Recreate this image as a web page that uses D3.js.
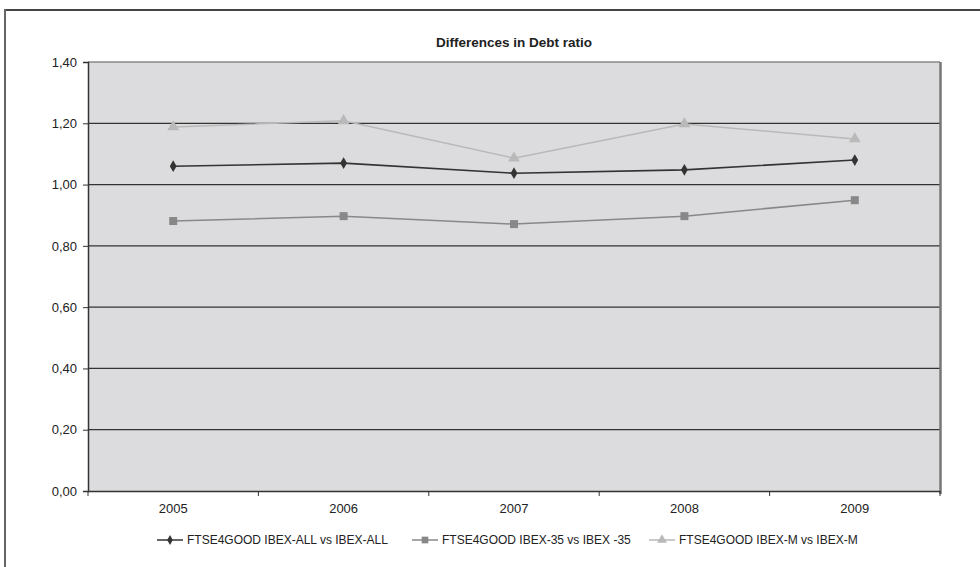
<!DOCTYPE html>
<html><head><meta charset="utf-8">
<script src="https://cdn.jsdelivr.net/npm/d3@7"></script>
<style>body{margin:0;background:#fff;}svg{display:block;font-family:"Liberation Sans",Arial,sans-serif;}</style>
</head><body><svg id="c" width="980" height="567"></svg>
<script>
const years = ["2005","2006","2007","2008","2009"];
const seriesNames = ["FTSE4GOOD IBEX-ALL vs IBEX-ALL","FTSE4GOOD IBEX-35 vs IBEX -35","FTSE4GOOD IBEX-M vs IBEX-M"];
const allValues = [1.06, 1.07, 1.037, 1.048, 1.08];
const ibex35Values = [0.881, 0.897, 0.871, 0.897, 0.949];
const ibexMValues = [1.188, 1.208, 1.086, 1.198, 1.149];
const yTicks = [0,0.2,0.4,0.6,0.8,1.0,1.2,1.4];
const colors = ["#333333","#888888","#b9b9b9"];
const markers = [d3.symbolDiamond, d3.symbolSquare, d3.symbolTriangle];
const markerSizes = [40, 64, 60];

const svg = d3.select("#c");
// outer frame
svg.append("line").attr("x1",5).attr("x2",980).attr("y1",10).attr("y2",10).attr("stroke","#444").attr("stroke-width",2);
svg.append("line").attr("x1",5).attr("x2",5).attr("y1",9).attr("y2",567).attr("stroke","#666").attr("stroke-width",2);

const L=88, R=940, T=62, B=491;
const x = d3.scaleBand().domain(years).range([L,R]);
const y = d3.scaleLinear().domain([0,1.4]).range([B,T]);

svg.append("rect").attr("x",L).attr("y",T).attr("width",R-L).attr("height",B-T).attr("fill","#dcdcde");
// gridlines
svg.append("g").selectAll("line").data(yTicks.filter(d=>d>0)).join("line")
  .attr("x1",L).attr("x2",R).attr("y1",d=>y(d)).attr("y2",d=>y(d))
  .attr("stroke",d=>d===1.4?"#888":"#333").attr("stroke-width",1.3);
// right border
svg.append("line").attr("x1",R+0.5).attr("x2",R+0.5).attr("y1",T).attr("y2",B+3).attr("stroke","#777").attr("stroke-width",2.5);

// axes
const ya = svg.append("g").attr("transform",`translate(${L},0)`)
  .call(d3.axisLeft(y).tickValues(yTicks).tickFormat(d=>d.toFixed(2).replace(".",",")).tickSize(5).tickPadding(6));
ya.select(".domain").attr("stroke","#333").attr("stroke-width",1.5);
ya.selectAll(".tick line").attr("stroke","#333");
ya.selectAll("text").attr("font-size",13).attr("fill","#222").attr("font-family","Liberation Sans, Arial, sans-serif");

const xa = svg.append("g").attr("transform",`translate(0,${B})`)
  .call(d3.axisBottom(x).tickSize(0).tickPadding(13));
xa.select(".domain").attr("stroke","#333").attr("stroke-width",1.5);
xa.selectAll("text").attr("font-size",13).attr("fill","#222").attr("font-family","Liberation Sans, Arial, sans-serif");
// x ticks at band boundaries
svg.append("g").selectAll("line").data(years.concat(["end"])).join("line")
  .attr("x1",(d,i)=>L+i*x.bandwidth()).attr("x2",(d,i)=>L+i*x.bandwidth())
  .attr("y1",B).attr("y2",B+5).attr("stroke","#333").attr("stroke-width",1);

// title
svg.append("text").attr("x",514).attr("y",47).attr("text-anchor","middle")
  .attr("font-size",13.5).attr("font-weight","bold").attr("fill","#222").text("Differences in Debt ratio");

const data = [allValues, ibex35Values, ibexMValues];
const line = d3.line().x((d,i)=>x(years[i])+x.bandwidth()/2).y(d=>y(d));
const draw = [2,1,0];
draw.forEach(s=>{
  svg.append("path").datum(data[s]).attr("d",line).attr("fill","none").attr("stroke",colors[s]).attr("stroke-width",s===0?1.6:1.5);
  svg.append("g").selectAll("path").data(data[s]).join("path")
    .attr("transform",(d,i)=>`translate(${x(years[i])+x.bandwidth()/2},${y(d)})`)
    .attr("d",d3.symbol().type(markers[s]).size(markerSizes[s])).attr("fill",colors[s]);
});

// legend
const legX = [157, 412, 649];
const lg = svg.append("g");
seriesNames.forEach((n,s)=>{
  const g = lg.append("g").attr("transform",`translate(${legX[s]},540)`);
  g.append("line").attr("x1",0).attr("x2",26).attr("stroke",colors[s]).attr("stroke-width",1.5);
  g.append("path").attr("transform","translate(13,0)").attr("d",d3.symbol().type(markers[s]).size(markerSizes[s]*0.7)).attr("fill",colors[s]);
  g.append("text").attr("x",30).attr("y",4).attr("font-size",12).attr("fill","#222").text(n);
});
</script></body></html>
